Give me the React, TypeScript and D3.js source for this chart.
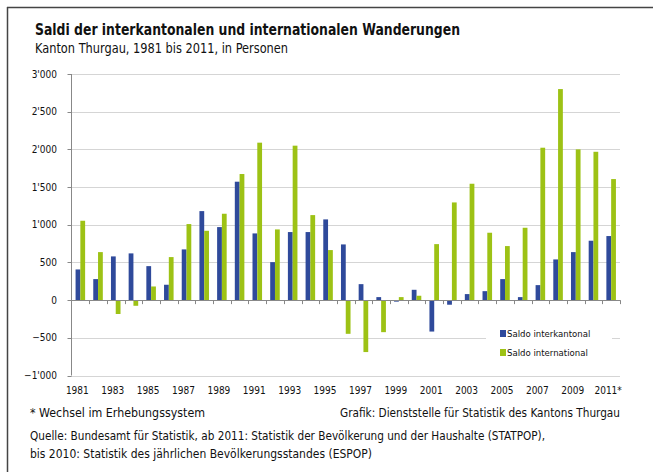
import React from 'react';
import * as d3 from 'd3';

// Jahre 1981–2011
const years = d3.range(1981, 2012).map(String);

const saldoInterkantonal = [
  407, 279, 580, 620, 451, 204, 673, 1181, 969, 1571,
  885, 504, 903, 903, 1071, 739, 212, 40, -20, 137,
  -417, -61, 80, 119, 279, 40, 199, 540, 637, 788,
  850,
];

const saldoInternational = [
  1053, 637, -184, -75, 181, 571, 1009, 920, 1146, 1673,
  2089, 938, 2049, 1128, 664, -447, -689, -425, 40, 58,
  743, 1296, 1544, 894, 717, 960, 2022, 2800, 2000, 1968,
  1606,
];

const yTicks = [-1000, -500, 0, 500, 1000, 1500, 2000, 2500, 3000];
const xLabelYears = years.filter((_, i) => i % 2 === 0);

const seriesNames = ['Saldo interkantonal', 'Saldo international'];
const seriesColors = ['#2f4a9b', '#9dc215'];

const W = 653;
const H = 472;
const FONT = "'Liberation Sans Narrow', 'DejaVu Sans Condensed', 'Roboto', sans-serif";

const fmt = d3.formatLocale({ decimal: '.', thousands: "'", grouping: [3], currency: ['', ''] }).format(',');

export default function App() {
  const x = d3.scaleBand<string>().domain(years).range([71.5, 620]);
  const y = d3.scaleLinear().domain([-1000, 3000]).range([375.5, 74]);
  const bw = x.bandwidth() * 0.27;
  const center = (yr: string) => (x(yr) as number) + x.bandwidth() / 2;

  const bar = (v: number, xPos: number, color: string, key: string) => (
    <rect
      key={key}
      x={xPos}
      y={Math.min(y(v), y(0))}
      width={bw}
      height={Math.abs(y(v) - y(0))}
      fill={color}
    />
  );

  // schmale Schrift nachbilden
  const squeeze = (len: number) => ({ textLength: len, lengthAdjust: 'spacingAndGlyphs' });

  return (
    <svg width={W} height={H} style={{ position: 'absolute', left: 0, top: 0, background: '#fff' }} fontFamily={FONT}>
      {/* Rahmen */}
      <line x1={7} x2={W} y1={7.5} y2={7.5} stroke="#444" strokeWidth={1.5} />
      <line x1={7.5} x2={7.5} y1={7} y2={H} stroke="#444" strokeWidth={1.5} />

      <text x={35} y={35} fontSize={16} fontWeight="bold" fill="#111" {...squeeze(425)}>
        Saldi der interkantonalen und internationalen Wanderungen
      </text>
      <text x={35} y={53} fontSize={13.5} fill="#111" {...squeeze(253)}>
        Kanton Thurgau, 1981 bis 2011, in Personen
      </text>

      {/* Gitter */}
      {yTicks.map((t) => (
        <g key={t}>
          {t !== 0 && (
            <line x1={71.5} x2={620} y1={Math.round(y(t)) + 0.5} y2={Math.round(y(t)) + 0.5}
              stroke="#aaa" strokeWidth={1} strokeDasharray="1,1" />
          )}
          <line x1={67.5} x2={71.5} y1={Math.round(y(t)) + 0.5} y2={Math.round(y(t)) + 0.5} stroke="#888" />
          <text x={57} y={y(t) + 3.5} fontSize={10} textAnchor="end" fill="#111">{fmt(t)}</text>
        </g>
      ))}

      {/* Balken */}
      {years.map((yr, i) => (
        <g key={yr}>
          {bar(saldoInterkantonal[i], center(yr) - bw, seriesColors[0], 'a')}
          {bar(saldoInternational[i], center(yr), seriesColors[1], 'b')}
        </g>
      ))}

      {/* Achsen */}
      <line x1={71.5} x2={71.5} y1={y(3000)} y2={y(-1000)} stroke="#888" />
      <line x1={71.5} x2={620} y1={Math.round(y(0)) + 0.5} y2={Math.round(y(0)) + 0.5} stroke="#888" />
      {years.map((yr) => {
        const xx = Math.round((x(yr) as number) + x.bandwidth()) + 0.5;
        return <line key={yr} x1={xx} x2={xx} y1={y(0)} y2={y(0) + 4} stroke="#888" />;
      })}

      {xLabelYears.map((yr) => (
        <text key={yr} x={center(yr) - 3} y={394} fontSize={10} textAnchor="middle" fill="#111">
          {yr === '2011' ? '2011*' : yr}
        </text>
      ))}

      {/* Legende */}
      <rect x={486} y={320} width={126} height={46} fill="#fff" />
      {seriesNames.map((n, i) => (
        <g key={n}>
          <rect x={500} y={330 + i * 19} width={6} height={7} fill={seriesColors[i]} />
          <text x={507} y={337 + i * 19} fontSize={9.5} fill="#111">{n}</text>
        </g>
      ))}

      <text x={30} y={417} fontSize={13} fill="#111" {...squeeze(175)}>* Wechsel im Erhebungssystem</text>
      <text x={340} y={417} fontSize={13} fill="#111" {...squeeze(280)}>
        Grafik: Dienststelle für Statistik des Kantons Thurgau
      </text>
      <text x={30} y={440} fontSize={12.5} fill="#111" {...squeeze(515)}>
        Quelle: Bundesamt für Statistik, ab 2011: Statistik der Bevölkerung und der Haushalte (STATPOP),
      </text>
      <text x={30} y={458} fontSize={12.5} fill="#111" {...squeeze(342)}>
        bis 2010: Statistik des jährlichen Bevölkerungsstandes (ESPOP)
      </text>
    </svg>
  );
}
